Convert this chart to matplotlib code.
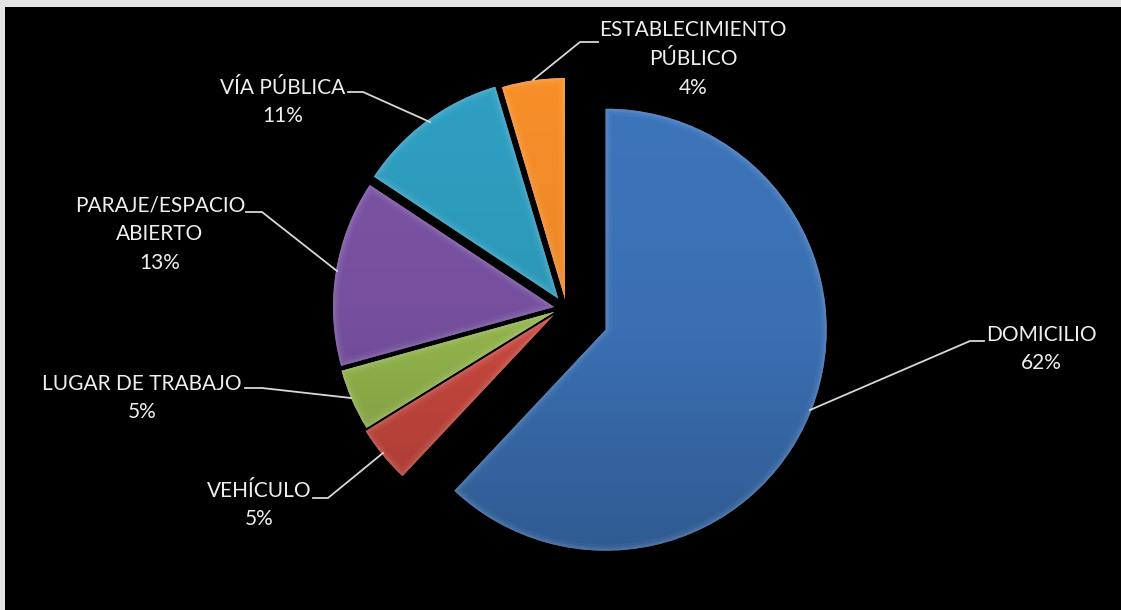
"""
Lugar de los hechos - exploded pie with bevel shading on a black panel
"""
import numpy as np
import matplotlib
matplotlib.use("Agg")
import matplotlib.pyplot as plt
from matplotlib.colors import LinearSegmentedColormap, to_rgb
from matplotlib.patches import Wedge

names = ["DOMICILIO", "VEHÍCULO", "LUGAR DE TRABAJO", "PARAJE/ESPACIO\nABIERTO", "VÍA PÚBLICA", "ESTABLECIMIENTO\nPÚBLICO"]
pct_labels = ["62%", "5%", "5%", "13%", "11%", "4%"]
values = [62.0, 4.2, 4.5, 13.6, 11.1, 4.6]
colors = ["#3a6fb2", "#c9483f", "#93b54c", "#76509e", "#2d98b9", "#ec8827"]

W, H = 1121, 610
explode = [48, 8, 7, 7, 8, 7]
nudge = [(1, 0), (0, 2), (1, 3), (1, 4), (3, 7), (6, 6)]
label_xy = [(1041, 349), (259, 505), (142, 398), (160, 234), (283, 102), (693, 59)]
leaders = [
    [(810, 410), (970, 341), (984, 341)],
    [(383, 453), (328, 498), (313, 498)],
    [(351, 398), (262, 388), (245, 388)],
    [(337, 271), (262, 212), (246, 212)],
    [(430, 122), (363, 92), (348, 92)],
    [(533, 80), (580, 42), (598, 42)],
]


def up(y):
    return H - y


fig = plt.figure(figsize=(W / 100, H / 100), dpi=100, facecolor="#e4e4e4")
ax = fig.add_axes([5 / W, 0, (W - 5) / W, (H - 7) / H], facecolor="black")

wedges, _ = ax.pie(values, center=(560, up(312)), radius=221, startangle=90, counterclock=False,
                   explode=explode, frame=True, wedgeprops={"linewidth": 0})

grad = np.linspace(0, 1, 256).reshape(-1, 1)
for w, col, (dx, dy) in zip(wedges, colors, nudge):
    w.set_center((w.center[0] + dx, w.center[1] + dy))
    rgb = np.array(to_rgb(col))
    top = np.clip(rgb * 1.05, 0, 1)
    cmap = LinearSegmentedColormap.from_list("s", [top, rgb, rgb * 0.82])
    w.set_facecolor(col)
    cx, cy = w.center
    im = ax.imshow(grad, cmap=cmap, extent=(cx - w.r, cx + w.r, cy - w.r, cy + w.r),
                   aspect="equal", origin="upper", zorder=2)
    im.set_clip_path(w)
    # soft bevel along the slice edges
    for lw, a in [(9, 0.04), (5, 0.05), (2.5, 0.07)]:
        rim = Wedge(w.center, w.r, w.theta1, w.theta2, fc="none", ec="white", lw=lw, alpha=a, zorder=3)
        ax.add_patch(rim)
        rim.set_clip_path(w)

for pts in leaders:
    xs = [p[0] for p in pts]
    ys = [up(p[1]) for p in pts]
    ax.plot(xs, ys, color="#d8d8d8", linewidth=1.3, zorder=4)

for name, pct, (x, y) in zip(names, pct_labels, label_xy):
    ax.text(x, up(y), name + "\n" + pct, color="#eeeeee", fontsize=15, family="Lato",
            ha="center", va="center", linespacing=1.55, zorder=5)

ax.set_xlim(5, W)
ax.set_ylim(0, H - 7)
ax.set_xticks([])
ax.set_yticks([])
for s in ax.spines.values():
    s.set_visible(False)

plt.savefig("out.png", dpi=100, facecolor=fig.get_facecolor())
